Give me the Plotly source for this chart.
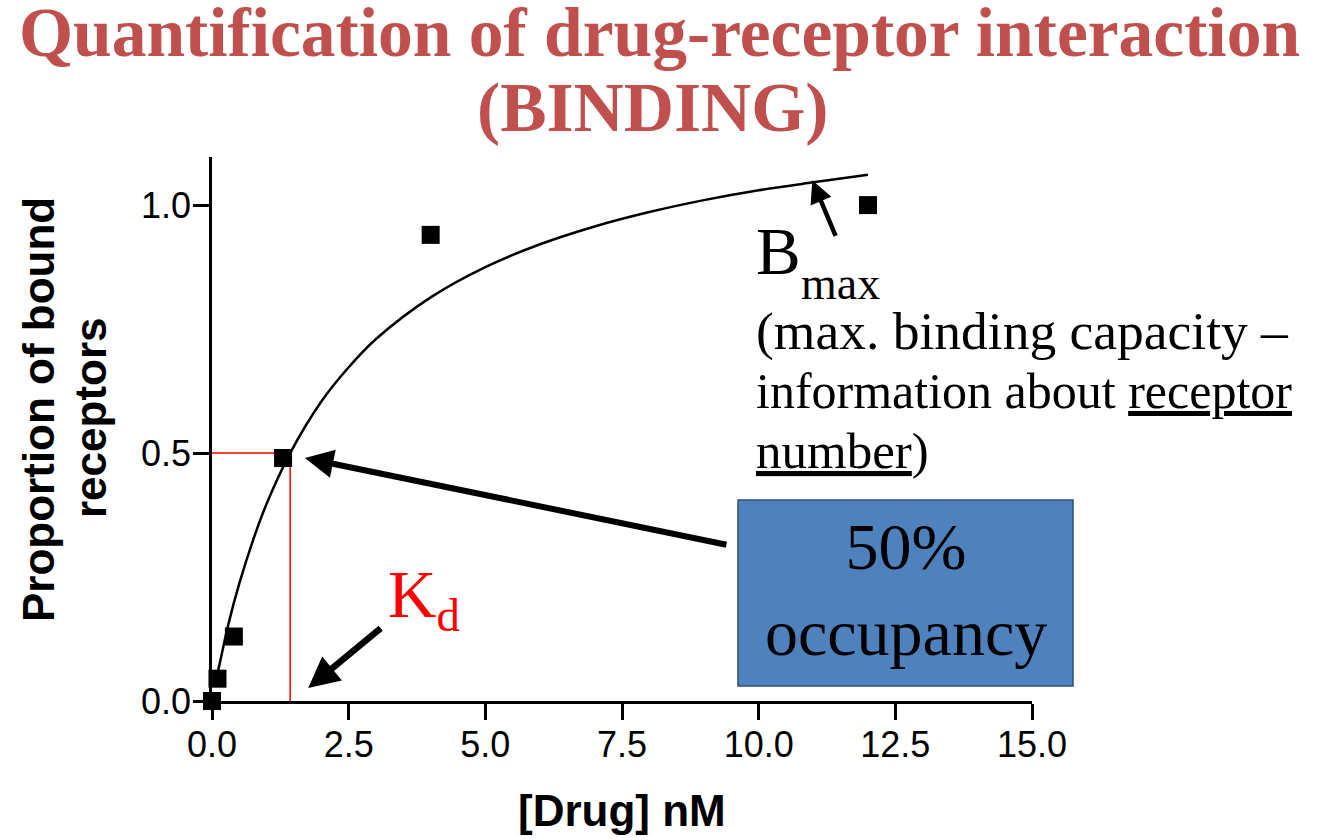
import plotly.graph_objects as go

# ---------------- data ----------------
drug_nM = [0.0, 0.1, 0.4, 1.3, 4.0, 12.0]
bound_fraction = [0.0, 0.045, 0.13, 0.49, 0.94, 1.0]

fit_x = [0.05, 0.15, 0.3, 0.5, 0.75, 1.0, 1.43, 2.0, 2.5, 3.0, 4.0, 5.0,
         6.0, 7.0, 8.0, 9.0, 10.0, 11.0, 12.0]
fit_y = [0.03, 0.08, 0.155, 0.237, 0.324, 0.398, 0.50, 0.604, 0.673, 0.73,
         0.814, 0.875, 0.921, 0.957, 0.986, 1.01, 1.03, 1.046, 1.061]

kd_value = 1.43
half_occupancy = 0.5

x_ticks = [0.0, 2.5, 5.0, 7.5, 10.0, 12.5, 15.0]
y_ticks = [0.0, 0.5, 1.0]

title_line1 = "Quantification of drug-receptor interaction"
title_line2 = "(BINDING)"

# ---------------- layout helpers ----------------
W, H = 1334, 840
L, R, T, B = 212, 1032, 157, 701


def px(xp):
    return (xp - L) / (R - L)


def py(yp):
    return (B - yp) / (B - T)


SERIF = "Liberation Serif, Times New Roman, serif"
SANS = "Liberation Sans, Arial, sans-serif"

fig = go.Figure()

fig.add_trace(go.Scatter(
    x=[0, kd_value, kd_value], y=[half_occupancy, half_occupancy, 0],
    mode="lines", line=dict(color="#ff0000", width=1.5),
    hoverinfo="skip", cliponaxis=False))

fig.add_trace(go.Scatter(
    x=fit_x, y=fit_y, mode="lines", line=dict(color="black", width=2.5, shape="spline"),
    cliponaxis=False))

fig.add_trace(go.Scatter(
    x=drug_nM, y=bound_fraction, mode="markers",
    marker=dict(symbol="square", size=18, color="black"),
    cliponaxis=False))

# blue box
fig.add_shape(type="rect", xref="paper", yref="paper",
              x0=px(738), x1=px(1073), y0=py(686), y1=py(500),
              fillcolor="#4F81BD", line=dict(color="#2f4f7a", width=1.5), layer="above")

ann = []
# title
ann.append(dict(xref="paper", yref="paper", x=px(659), y=py(33), text="<b>%s</b>" % title_line1,
                showarrow=False, xanchor="center", yanchor="middle",
                font=dict(family=SERIF, size=69.5, color="#C0504D")))
ann.append(dict(xref="paper", yref="paper", x=px(652), y=py(107), text="<b>%s</b>" % title_line2,
                showarrow=False, xanchor="center", yanchor="middle",
                font=dict(family=SERIF, size=69.5, color="#C0504D")))
# axis titles
ann.append(dict(xref="paper", yref="paper", x=px(622), y=py(810), text="<b>[Drug] nM</b>",
                showarrow=False, xanchor="center", yanchor="middle",
                font=dict(family=SANS, size=44, color="black")))
ann.append(dict(xref="paper", yref="paper", x=px(38), y=py(410), text="<b>Proportion of bound</b>",
                showarrow=False, xanchor="center", yanchor="middle", textangle=-90,
                font=dict(family=SANS, size=44, color="black")))
ann.append(dict(xref="paper", yref="paper", x=px(90), y=py(418), text="<b>receptors</b>",
                showarrow=False, xanchor="center", yanchor="middle", textangle=-90,
                font=dict(family=SANS, size=44, color="black")))
# box text
ann.append(dict(xref="paper", yref="paper", x=px(906), y=py(589), text="50%<br>occupancy",
                showarrow=False, xanchor="center", yanchor="middle",
                font=dict(family=SERIF, size=66, color="black")))
# Kd label
ann.append(dict(xref="paper", yref="paper", x=px(386), y=py(599), text="K<sub>d</sub>",
                showarrow=False, xanchor="left", yanchor="middle",
                font=dict(family=SERIF, size=67, color="#ff0000")))
# Bmax label (B with lowered subscript)
ann.append(dict(xref="paper", yref="paper", x=px(754), y=py(251), text="B",
                showarrow=False, xanchor="left", yanchor="middle",
                font=dict(family=SERIF, size=67, color="black")))
ann.append(dict(xref="paper", yref="paper", x=px(799), y=py(283), text="max",
                showarrow=False, xanchor="left", yanchor="middle",
                font=dict(family=SERIF, size=46, color="black")))
# description lines
desc = ["(max. binding capacity \u2013",
        "information about <u>receptor</u>",
        "<u>number</u>)"]
desc_sizes = [53.5, 50, 51]
for i, line in enumerate(desc):
    ann.append(dict(xref="paper", yref="paper", x=px(754), y=py(331 + 60 * i), text=line,
                    showarrow=False, xanchor="left", yanchor="middle",
                    font=dict(family=SERIF, size=desc_sizes[i], color="black")))

# arrows
ann.append(dict(x=1.70, y=0.49, xref="x", yref="y", text="", showarrow=True,
                ax=423, ay=87, arrowhead=2, arrowsize=0.95, arrowwidth=6, arrowcolor="black"))
ann.append(dict(x=1.76, y=0.026, xref="x", yref="y", text="", showarrow=True,
                ax=74, ay=-61, arrowhead=2, arrowsize=0.95, arrowwidth=6.5, arrowcolor="black"))
ann.append(dict(x=10.98, y=1.05, xref="x", yref="y", text="", showarrow=True,
                ax=24, ay=57, arrowhead=2, arrowsize=1.0, arrowwidth=4.5, arrowcolor="black"))

fig.update_layout(
    width=W, height=H,
    margin=dict(l=L, r=W - R, t=T, b=H - B, pad=0),
    paper_bgcolor="white", plot_bgcolor="white",
    showlegend=False,
    annotations=ann,
    xaxis=dict(range=[0, 15], tickvals=x_ticks, tickformat=".1f",
               showline=True, linecolor="black", linewidth=2.5,
               ticks="outside", ticklen=16, tickwidth=2.5, tickcolor="black",
               ticklabelstandoff=-6,
               showgrid=False, zeroline=False,
               tickfont=dict(family=SANS, size=36, color="black")),
    yaxis=dict(range=[0, 1.097], tickvals=y_ticks, tickformat=".1f",
               showline=True, linecolor="black", linewidth=2.5,
               ticks="outside", ticklen=16, tickwidth=2.5, tickcolor="black",
               ticklabelstandoff=-5,
               showgrid=False, zeroline=False,
               tickfont=dict(family=SANS, size=36, color="black")),
)

fig.write_html("out.html", config={"displayModeBar": False},
               post_script="document.body.style.margin='0px';")
